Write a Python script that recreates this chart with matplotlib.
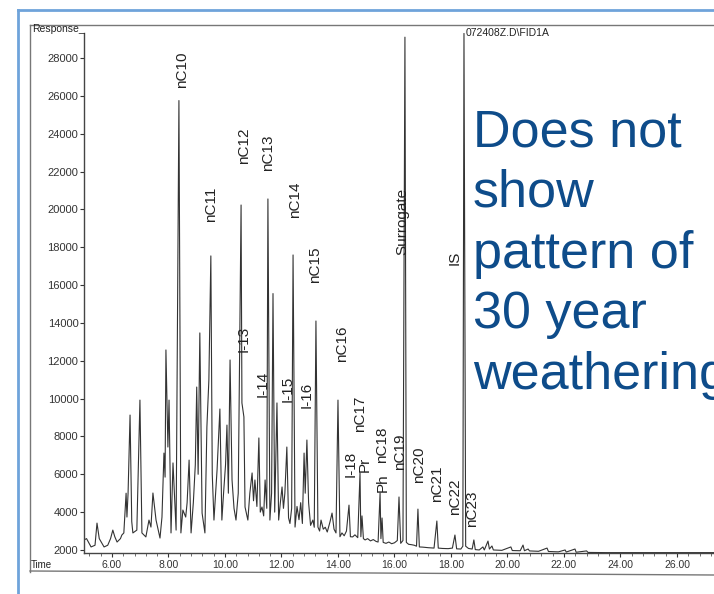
import numpy as np
import matplotlib
matplotlib.use("Agg")
import matplotlib.pyplot as plt
from matplotlib.ticker import MultipleLocator, FormatStrFormatter
from matplotlib.lines import Line2D

plt.rcParams['font.family'] = ['Liberation Sans', 'DejaVu Sans']

# chromatogram trace: (retention time [min], response)
trace = [
    (5.01, 2530), (5.10, 2600), (5.26, 2160), (5.40, 2250), (5.47, 3420), (5.55, 2600),
    (5.72, 2160), (5.85, 2250), (5.95, 2600), (6.03, 3050), (6.10, 2700), (6.18, 2420),
    (6.30, 2600), (6.35, 2790), (6.42, 2900), (6.50, 5000), (6.53, 3740), (6.57, 5000),
    (6.64, 9130), (6.70, 3500), (6.74, 2900), (6.88, 3050), (6.99, 9920), (7.06, 2900),
    (7.20, 2690), (7.31, 3580), (7.38, 3210), (7.45, 5010), (7.56, 3580), (7.70, 2630),
    (7.77, 3740), (7.84, 7120), (7.88, 5850), (7.91, 12570), (7.98, 7440), (8.02, 9920),
    (8.09, 2900), (8.16, 6600), (8.27, 3050), (8.37, 25750), (8.44, 2900), (8.51, 4110),
    (8.61, 3740), (8.66, 4500), (8.73, 6750), (8.80, 2900), (8.88, 4500), (8.95, 6500),
    (9.00, 10610), (9.05, 6000), (9.11, 13470), (9.19, 3950), (9.29, 2900), (9.36, 8500),
    (9.43, 10980), (9.50, 17540), (9.55, 6000), (9.61, 3580), (9.72, 6230), (9.82, 9450),
    (9.89, 3580), (9.95, 5000), (10.02, 6500), (10.07, 8600), (10.12, 5000), (10.18, 12040),
    (10.25, 5700), (10.32, 4200), (10.39, 3580), (10.47, 5000), (10.57, 20230), (10.60, 9770),
    (10.67, 9030), (10.71, 4270), (10.81, 3580), (10.88, 5000), (10.96, 6070), (11.01, 4600),
    (11.06, 5700), (11.13, 4300), (11.20, 7920), (11.25, 4000), (11.31, 4270), (11.37, 3800),
    (11.42, 5700), (11.48, 4200), (11.52, 20550), (11.59, 3580), (11.65, 5000), (11.70, 15550),
    (11.76, 4000), (11.84, 9770), (11.90, 3580), (11.96, 4500), (12.02, 5330), (12.07, 4200),
    (12.12, 5000), (12.19, 7440), (12.25, 3700), (12.30, 3400), (12.36, 4200), (12.41, 17590),
    (12.48, 3210), (12.55, 4300), (12.62, 3600), (12.68, 4500), (12.74, 3400), (12.80, 7120),
    (12.84, 5000), (12.90, 7810), (12.96, 4500), (13.03, 3300), (13.11, 3580), (13.16, 3200),
    (13.22, 14100), (13.29, 3210), (13.35, 3000), (13.40, 3580), (13.48, 3100), (13.55, 3200),
    (13.62, 2950), (13.72, 3500), (13.79, 3950), (13.86, 3100), (13.93, 2900), (14.00, 9920),
    (14.07, 2700), (14.14, 2900), (14.22, 2750), (14.30, 3000), (14.39, 4370), (14.44, 2700),
    (14.52, 2690), (14.60, 2800), (14.70, 2650), (14.78, 6070), (14.81, 2700), (14.85, 3800),
    (14.90, 2600), (14.96, 2530), (15.05, 2600), (15.15, 2480), (15.25, 2550), (15.35, 2450),
    (15.42, 2420), (15.49, 5010), (15.52, 2600), (15.56, 3690), (15.60, 2400), (15.70, 2350),
    (15.80, 2420), (15.90, 2330), (16.00, 2380), (16.10, 2500), (16.16, 4800), (16.22, 2350),
    (16.30, 2500), (16.37, 29100), (16.42, 2400), (16.50, 2300), (16.60, 2280), (16.70, 2250),
    (16.78, 2200), (16.83, 4160), (16.88, 2160), (17.00, 2150), (17.20, 2120), (17.40, 2100),
    (17.50, 3530), (17.55, 2100), (17.70, 2080), (17.90, 2070), (18.05, 2100), (18.14, 2790),
    (18.20, 2060), (18.35, 2050), (18.42, 2200), (18.46, 29300), (18.52, 2200), (18.62, 2080),
    (18.75, 2050), (18.81, 2530), (18.86, 2020), (19.00, 2000), (19.13, 2160), (19.18, 2000),
    (19.31, 2470), (19.36, 2050), (19.45, 2210), (19.50, 2000), (19.80, 1980), (20.12, 2160),
    (20.17, 1970), (20.45, 1960), (20.55, 2260), (20.60, 1960), (20.73, 2050), (20.78, 1950),
    (21.10, 1930), (21.40, 2100), (21.45, 1920), (21.80, 1900), (22.04, 2000), (22.08, 1890),
    (22.39, 2050), (22.43, 1880), (22.80, 1950), (22.85, 1870), (23.50, 1860), (24.00, 1860),
    (25.00, 1860), (26.00, 1860), (27.30, 1860),
]
trace_time = [p[0] for p in trace]
trace_resp = [p[1] for p in trace]

# peak labels: name, time, response at bottom of the label
peak_names = ['nC10', 'nC11', 'nC12', 'nC13', 'nC14', 'nC15', 'I-13', 'I-14', 'I-15', 'I-16',
              'nC16', 'nC17', 'I-18', 'Pr', 'nC18', 'Ph', 'nC19', 'nC20', 'nC21', 'nC22', 'nC23',
              'Surrogate', 'IS']
peak_times = [8.48, 9.50, 10.67, 11.52, 12.48, 13.19, 10.67, 11.35, 12.23, 12.90,
              14.14, 14.78, 14.46, 14.96, 15.56, 15.59, 16.19, 16.87, 17.50, 18.14, 18.74,
              16.27, 18.14]
peak_label_y = [26415, 19330, 22400, 22030, 19540, 16110, 12460, 10080, 9820, 9500,
                11930, 8235, 5855, 6120, 6600, 5060, 6225, 5540, 4535, 3850, 3215,
                17590, 17060]

fig = plt.figure(figsize=(7.14, 5.94), dpi=100)
W, H = 714, 594

# slide / scan frames
fig.add_artist(Line2D([18 / W, 18 / W], [0, 1 - 10 / H], color='#6FA3DA', lw=2))
fig.add_artist(Line2D([18 / W, 1], [1 - 10 / H, 1 - 10 / H], color='#6FA3DA', lw=2))
fig.add_artist(Line2D([30 / W, 1], [1 - 25 / H, 1 - 25 / H], color='#777777', lw=1))
fig.add_artist(Line2D([30 / W, 30 / W], [1 - 25 / H, 1 - 572 / H], color='#777777', lw=1))
fig.add_artist(Line2D([30 / W, 1], [1 - 571 / H, 1 - 575 / H], color='#777777', lw=1))

ax = fig.add_axes([84 / W, 41 / H, 630 / W, 520 / H])
ax.plot(trace_time, trace_resp, color='#333333', lw=0.8)
ax.set_xlim(5.01, 27.31)
ax.set_ylim(1840, 29320)

for name, t, y in zip(peak_names, peak_times, peak_label_y):
    ax.text(t, y, name, rotation=90, ha='center', va='bottom', fontsize=11, color='#222222')

for s in ['top', 'right']:
    ax.spines[s].set_visible(False)
for s in ['left', 'bottom']:
    ax.spines[s].set_color('#444444')
    ax.spines[s].set_linewidth(1)

ax.xaxis.set_major_locator(MultipleLocator(2))
ax.xaxis.set_minor_locator(MultipleLocator(0.4))
ax.xaxis.set_major_formatter(FormatStrFormatter('%.2f'))
ax.yaxis.set_major_locator(MultipleLocator(2000))
ax.tick_params(axis='both', colors='#333333', length=3, width=0.8)
ax.tick_params(axis='x', which='major', labelsize=7.5, pad=2)
ax.tick_params(axis='y', labelsize=8, pad=1)
ax.tick_params(axis='x', which='minor', length=2, color='#555555')

fig.text(32 / W, 1 - 29 / H, 'Response_', fontsize=7.5, color='#222222', va='center', ha='left')
fig.text(31 / W, 1 - 565 / H, 'Time', fontsize=7, color='#222222', va='center', ha='left')
fig.text(466 / W, 1 - 33 / H, '072408Z.D\\FID1A', fontsize=7.5, color='#222222', va='center', ha='left')

fig.text(473 / W, 1 - 108 / H, 'Does not\nshow\npattern of\n30 year\nweathering',
         fontsize=37.5, color='#0E4C8A', ha='left', va='top', linespacing=1.31)

fig.savefig('out.png', dpi=100)
